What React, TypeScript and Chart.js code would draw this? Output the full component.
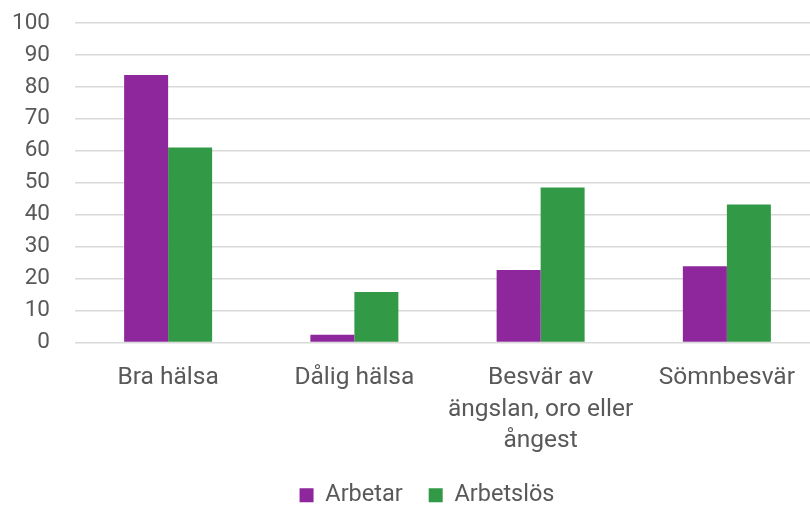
import React, { useEffect, useRef } from "react";
import { Chart, registerables } from "chart.js";

Chart.register(...registerables);

const categories: (string | string[])[] = [
  "Bra hälsa",
  "Dålig hälsa",
  ["Besvär av", "ängslan, oro eller", "ångest"],
  "Sömnbesvär",
];
const arbetar = [83.7, 2.4, 22.7, 23.9];
const arbetslos = [61, 15.8, 48.5, 43.2];
const seriesNames = ["Arbetar", "Arbetslös"];
const yMin = 0;
const yMax = 100;
const yStep = 10;

const TEXT = "#595959";
const FONT = "Roboto";

const shiftLegend = {
  id: "shiftLegend",
  afterLayout(chart: any) {
    const lg = chart.legend;
    if (lg) {
      lg.left += 17;
      lg.right += 17;
    }
  },
};

export default function App() {
  const ref = useRef<HTMLCanvasElement | null>(null);

  useEffect(() => {
    document.body.style.margin = "0";
    const canvas = ref.current;
    if (!canvas) return;
    const chart = new Chart(canvas, {
      type: "bar",
      data: {
        labels: categories,
        datasets: [
          {
            label: seriesNames[0],
            data: arbetar,
            backgroundColor: "#8E279B",
            borderWidth: 0,
          },
          {
            label: seriesNames[1],
            data: arbetslos,
            backgroundColor: "#329A46",
            borderWidth: 0,
          },
        ],
      },
      plugins: [shiftLegend],
      options: {
        responsive: false,
        animation: false,
        layout: { padding: { top: 23, right: 30, left: 0, bottom: 0 } },
        datasets: {
          bar: { categoryPercentage: 0.4725, barPercentage: 1 },
        },
        plugins: {
          tooltip: { enabled: false },
          legend: {
            position: "bottom",
            labels: {
              color: TEXT,
              font: { family: FONT, size: 23.5 },
              boxWidth: 14,
              boxHeight: 14,
              padding: 26,
            },
          },
        },
        scales: {
          x: {
            grid: { display: false, drawTicks: false },
            border: { display: false },
            ticks: {
              color: TEXT,
              font: { family: FONT, size: 24.5, lineHeight: 1.286 },
              padding: 20,
              maxRotation: 0,
              autoSkip: false,
            },
            afterFit: (s: any) => {
              s.height = 115;
              s.paddingLeft = 0;
              s.paddingRight = 0;
            },
          },
          y: {
            min: yMin,
            max: yMax,
            grid: { color: "#d9d9d9", lineWidth: 1.5, drawTicks: false },
            border: { display: false },
            ticks: {
              stepSize: yStep,
              autoSkip: false,
              color: TEXT,
              font: { family: FONT, size: 22.5 },
              padding: 25,
            },
            afterFit: (s: any) => {
              s.width = 75;
              s.paddingTop = 0;
              s.paddingBottom = 0;
            },
          },
        },
      },
    });
    return () => chart.destroy();
  }, []);

  return (
    <div style={{ width: 810, height: 505, overflow: "hidden", background: "#fff" }}>
      <canvas ref={ref} width={850} height={517} style={{ display: "block" }} />
    </div>
  );
}
